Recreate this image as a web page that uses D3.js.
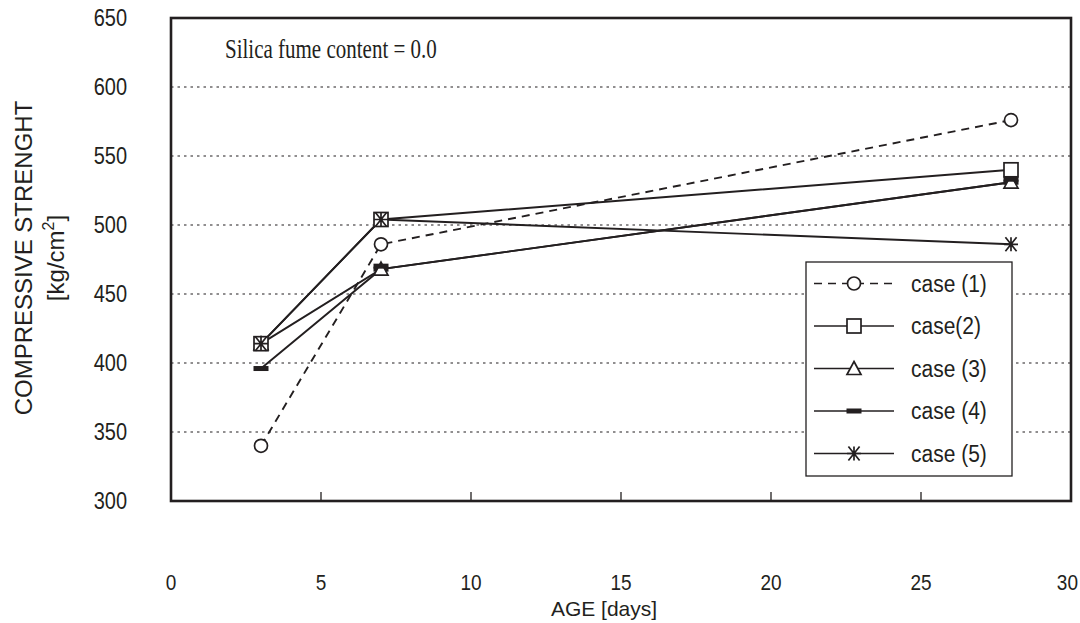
<!DOCTYPE html>
<html><head><meta charset="utf-8">
<script src="https://cdn.jsdelivr.net/npm/d3@7"></script>
<style>body{margin:0;background:#fff}svg{display:block}</style>
</head><body>
<script>
const days = [3, 7, 28];
const seriesNames = ["case (1)", "case(2)", "case (3)", "case (4)", "case (5)"];
const case1 = [340, 486, 576];
const case2 = [414, 504, 540];
const case3 = [414, 468, 531];
const case4 = [396, 468, 531];
const case5 = [414, 504, 486];
const markerTypes = ["circle", "square", "triangle", "bar", "asterisk"];
const xTicks = [0, 5, 10, 15, 20, 25, 30];
const yTicks = [300, 350, 400, 450, 500, 550, 600, 650];
const gridValues = [350, 400, 450, 500, 550, 600];
const annotation = "Silica fume content = 0.0";

const W = 1080, H = 623;
const ink = "#231f20";
const sans = "Liberation Sans, Arial, sans-serif";
const svg = d3.select("body").append("svg").attr("width", W).attr("height", H);
const x = d3.scaleLinear().domain([0, 30]).range([171, 1071]);
const y = d3.scaleLinear().domain([300, 650]).range([501, 18]);

function stretchText(parent, tx, ty, str, size, sy, anchor, family) {
  return parent.append("text")
    .attr("transform", `translate(${tx},${ty}) scale(1,${sy})`)
    .attr("text-anchor", anchor || "start")
    .attr("font-family", family || sans).attr("font-size", size).attr("fill", ink)
    .text(str);
}

// gridlines
svg.append("g").selectAll("line").data(gridValues).join("line")
  .attr("x1", x(0)).attr("x2", x(30)).attr("y1", d => y(d)).attr("y2", d => y(d))
  .attr("stroke", ink).attr("stroke-width", 1.2).attr("stroke-dasharray", "2.5,4");

// x ticks (inside)
svg.append("g").selectAll("line").data(xTicks.slice(1, -1)).join("line")
  .attr("x1", d => x(d)).attr("x2", d => x(d)).attr("y1", y(300)).attr("y2", y(300) - 9)
  .attr("stroke", ink).attr("stroke-width", 1.3);

// frame
svg.append("rect").attr("x", x(0)).attr("y", y(650)).attr("width", x(30) - x(0)).attr("height", y(300) - y(650))
  .attr("fill", "none").attr("stroke", ink).attr("stroke-width", 2.6);

// tick labels
const xl = svg.append("g");
xTicks.forEach((d, i) => {
  const last = i === xTicks.length - 1;
  stretchText(xl, last ? W - 2 : x(d), 590, d, 19, 1.14, last ? "end" : "middle");
});
const yl = svg.append("g");
yTicks.forEach(d => stretchText(yl, 127, y(d) + 8, d, 20, 1.16, "end"));

// axis titles
stretchText(svg, 604, 616, "AGE [days]", 21, 1.0, "middle");
const yt = svg.append("g").attr("transform", "translate(0,258) rotate(-90)");
yt.append("text").attr("x", 0).attr("y", 32).attr("text-anchor", "middle")
  .attr("font-family", sans).attr("font-size", 24).attr("fill", ink)
  .text("COMPRESSIVE STRENGHT");
const t2 = yt.append("text").attr("x", 0).attr("y", 64).attr("text-anchor", "middle")
  .attr("font-family", sans).attr("font-size", 24).attr("fill", ink);
t2.append("tspan").text("[kg/cm");
t2.append("tspan").attr("dy", -10).attr("font-size", 16).text("2");
t2.append("tspan").attr("dy", 10).text("]");

// annotation
stretchText(svg, 225, 58, annotation, 21, 1.28, "start", "Liberation Serif, Times New Roman, serif");

function drawMarker(g, type, cx, cy) {
  const s = 7;
  if (type === "circle") {
    g.append("circle").attr("cx", cx).attr("cy", cy).attr("r", s - 0.5).attr("fill", "#fff").attr("stroke", ink).attr("stroke-width", 1.7);
  } else if (type === "square") {
    g.append("rect").attr("x", cx - s).attr("y", cy - s).attr("width", 2 * s).attr("height", 2 * s)
      .attr("fill", "#fff").attr("stroke", ink).attr("stroke-width", 1.7);
  } else if (type === "triangle") {
    g.append("path").attr("d", `M${cx},${cy - s}L${cx + s},${cy + s - 1}L${cx - s},${cy + s - 1}Z`)
      .attr("fill", "#fff").attr("stroke", ink).attr("stroke-width", 1.7);
  } else if (type === "bar") {
    g.append("rect").attr("x", cx - 7.5).attr("y", cy - 2.5).attr("width", 15).attr("height", 5).attr("fill", ink);
  } else if (type === "asterisk") {
    g.append("path").attr("d", `M${cx - s},${cy}L${cx + s},${cy}M${cx - s * 0.8},${cy - s}L${cx + s * 0.8},${cy + s}M${cx - s * 0.8},${cy + s}L${cx + s * 0.8},${cy - s}M${cx},${cy - s}L${cx},${cy + s}`)
      .attr("stroke", ink).attr("stroke-width", 1.7).attr("fill", "none");
  }
}

const allSeries = [case1, case2, case3, case4, case5];
const line = d3.line().x((d, i) => x(days[i])).y(d => y(d));
allSeries.forEach((vals, k) => {
  svg.append("path").datum(vals).attr("d", line).attr("fill", "none").attr("stroke", ink)
    .attr("stroke-width", 1.9).attr("stroke-dasharray", k === 0 ? "8,6" : null);
});
const mg = svg.append("g");
[4, 3, 2, 1, 0].forEach(k => {
  allSeries[k].forEach((v, i) => drawMarker(mg, markerTypes[k], x(days[i]), y(v)));
});
allSeries[4].forEach((v, i) => { if (allSeries[1][i] === v) drawMarker(mg, "asterisk", x(days[i]), y(v)); });
allSeries[3].forEach((v, i) => { if (allSeries[2][i] === v) drawMarker(mg, "bar", x(days[i]), y(v) - 3); });

// legend
const lg = svg.append("g");
lg.append("rect").attr("x", 806).attr("y", 262).attr("width", 206).attr("height", 214)
  .attr("fill", "#fff").attr("stroke", ink).attr("stroke-width", 1.3);
seriesNames.forEach((name, k) => {
  const ly = 283.5 + k * 42.5;
  lg.append("line").attr("x1", 814).attr("x2", 894).attr("y1", ly).attr("y2", ly)
    .attr("stroke", ink).attr("stroke-width", 1.7).attr("stroke-dasharray", k === 0 ? "8,6" : null);
  drawMarker(lg, markerTypes[k], 854, ly);
  stretchText(lg, 911, ly + 8, name, 21, 1.12, "start");
});
</script>
</body></html>
